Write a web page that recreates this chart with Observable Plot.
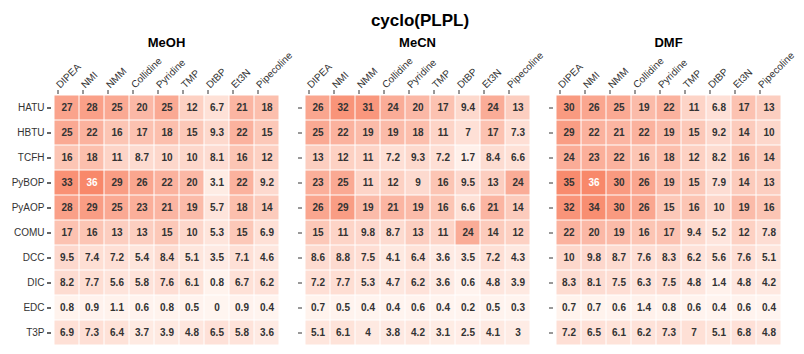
<!DOCTYPE html>
<html>
<head>
<meta charset="utf-8">
<script src="https://cdn.jsdelivr.net/npm/d3@7"></script>
<script src="https://cdn.jsdelivr.net/npm/@observablehq/plot@0.6"></script>
<style>
  html, body { margin: 0; padding: 0; background: #fff; }
  #chart { width: 804px; height: 354px; }
</style>
</head>
<body>
<div id="chart"></div>
<script>
const title = "cyclo(PLPL)";
const solvents = ["MeOH", "MeCN", "DMF"];
const bases = ["DIPEA", "NMI", "NMM", "Collidine", "Pyridine", "TMP", "DtBP", "Et3N", "Pipecoline"];
const reagents = ["HATU", "HBTU", "TCFH", "PyBOP", "PyAOP", "COMU", "DCC", "DIC", "EDC", "T3P"];

const meoh = [
  [27, 28, 25, 20, 25, 12, 6.7, 21, 18],
  [25, 22, 16, 17, 18, 15, 9.3, 22, 15],
  [16, 18, 11, 8.7, 10, 10, 8.1, 16, 12],
  [33, 36, 29, 26, 22, 20, 3.1, 22, 9.2],
  [28, 29, 25, 23, 21, 19, 5.7, 18, 14],
  [17, 16, 13, 13, 15, 10, 5.3, 15, 6.9],
  [9.5, 7.4, 7.2, 5.4, 8.4, 5.1, 3.5, 7.1, 4.6],
  [8.2, 7.7, 5.6, 5.8, 7.6, 6.1, 0.8, 6.7, 6.2],
  [0.8, 0.9, 1.1, 0.6, 0.8, 0.5, 0, 0.9, 0.4],
  [6.9, 7.3, 6.4, 3.7, 3.9, 4.8, 6.5, 5.8, 3.6]
];
const mecn = [
  [26, 32, 31, 24, 20, 17, 9.4, 24, 13],
  [25, 22, 19, 19, 18, 11, 7, 17, 7.3],
  [13, 12, 11, 7.2, 9.3, 7.2, 1.7, 8.4, 6.6],
  [23, 25, 11, 12, 9, 16, 9.5, 13, 24],
  [26, 29, 19, 21, 19, 16, 6.6, 21, 14],
  [15, 11, 9.8, 8.7, 13, 11, 24, 14, 12],
  [8.6, 8.8, 7.5, 4.1, 6.4, 3.6, 3.5, 7.2, 4.3],
  [7.2, 7.7, 5.3, 4.7, 6.2, 3.6, 0.6, 4.8, 3.9],
  [0.7, 0.5, 0.4, 0.4, 0.6, 0.4, 0.2, 0.5, 0.3],
  [5.1, 6.1, 4, 3.8, 4.2, 3.1, 2.5, 4.1, 3]
];
const dmf = [
  [30, 26, 25, 19, 22, 11, 6.8, 17, 13],
  [29, 22, 21, 22, 19, 15, 9.2, 14, 10],
  [24, 23, 22, 16, 18, 12, 8.2, 16, 14],
  [35, 36, 30, 26, 19, 15, 7.9, 14, 13],
  [32, 34, 30, 26, 15, 16, 10, 19, 16],
  [22, 20, 19, 16, 17, 9.4, 5.2, 12, 7.8],
  [10, 9.8, 8.7, 7.6, 8.3, 6.2, 5.6, 7.6, 5.1],
  [8.3, 8.1, 7.5, 6.3, 7.5, 4.8, 1.4, 4.8, 4.2],
  [0.7, 0.7, 0.6, 1.4, 0.8, 0.6, 0.4, 0.6, 0.4],
  [7.2, 6.5, 6.1, 6.2, 7.3, 7, 5.1, 6.8, 4.8]
];

const tables = {MeOH: meoh, MeCN: mecn, DMF: dmf};
const data = [];
for (const s of solvents) {
  tables[s].forEach((row, i) => row.forEach((v, j) => {
    data.push({solvent: s, reagent: reagents[i], base: bases[j], value: v});
  }));
}

const chart = Plot.plot({
  width: 804,
  height: 354,
  marginLeft: 50,
  marginRight: 21,
  marginTop: 93,
  marginBottom: 7,
  style: {fontFamily: "'Liberation Sans', Arial, sans-serif", fontSize: "10px", color: "#333", background: "#fff"},
  fx: {domain: solvents, paddingInner: 0.0855, paddingOuter: 0, label: null},
  x: {domain: bases, padding: 0, label: null},
  y: {domain: reagents, padding: 0, label: null},
  color: {type: "linear", domain: [0, 36], range: ["#fff5f0", "#f8886a"]},
  marks: [
    Plot.cell(data, {fx: "solvent", x: "base", y: "reagent", fill: "value", inset: 0.5}),
    Plot.text(data, {
      fx: "solvent", x: "base", y: "reagent",
      text: d => String(d.value),
      fill: d => d.value > 35 ? "#ffffff" : "#333333",
      fontWeight: "bold", fontSize: 10
    }),
    Plot.axisFx({anchor: "top", tickSize: 0, tickPadding: 47, fontSize: 13, fontWeight: "bold", fill: "#000", label: null}),
    Plot.axisX({anchor: "top", tickSize: 4, tickPadding: 3, tickRotate: -45, textAnchor: "start", dx: -9, fontSize: 10, fill: "#333", label: null}),
    Plot.axisY({anchor: "left", tickSize: 4, tickPadding: 3, fontSize: 10, fill: "#333", label: null}),
    Plot.axisY({anchor: "left", tickSize: 4, tickFormat: () => "", facetAnchor: null, label: null})
  ]
});

d3.select(chart).append("text")
  .attr("x", 420)
  .attr("y", 26)
  .attr("text-anchor", "middle")
  .attr("font-size", 17)
  .attr("font-weight", "bold")
  .attr("fill", "#000")
  .text(title);

document.getElementById("chart").appendChild(chart);
</script>
</body>
</html>
